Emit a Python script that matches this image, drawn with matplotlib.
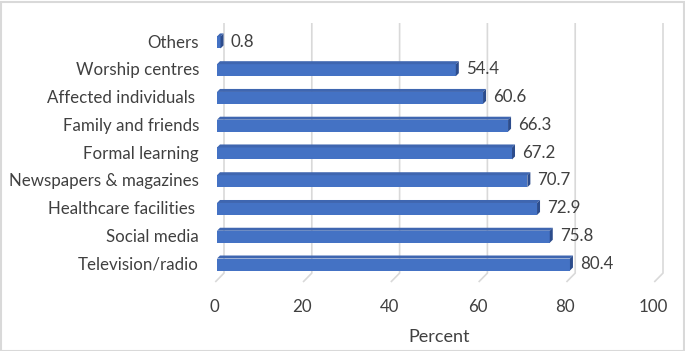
import matplotlib
matplotlib.use("Agg")
import matplotlib.pyplot as plt
from matplotlib.patches import Polygon, Rectangle
import matplotlib.transforms as mtransforms
import numpy as np

categories = ["Television/radio", "Social media", "Healthcare facilities ",
              "Newspapers & magazines", "Formal learning", "Family and friends",
              "Affected individuals ", "Worship centres", "Others"]
values = [80.4, 75.8, 72.9, 70.7, 67.2, 66.3, 60.6, 54.4, 0.8]
xticks = [0, 20, 40, 60, 80, 100]
xlabel = "Percent"

W, H = 685, 351
fig = plt.figure(figsize=(W / 100, H / 100), dpi=100)
plt.rcParams['font.family'] = ['Lato', 'DejaVu Sans']

x0, x1 = 217, 661
y_top, y_bot = 23, 282
ax = fig.add_axes([x0 / W, 1 - y_bot / H, (x1 - x0) / W, (y_bot - y_top) / H])
pxu = 4.39
ax.set_xlim(0, (x1 - x0) / pxu)
ax.set_ylim(-0.68, 8.65)
for s in ax.spines.values():
    s.set_visible(False)

text_col = "#404040"
grid_col = "#D9D9D9"
off = 7 / pxu
ygrid_bot = -0.36
fs = 12.2
for v in xticks:
    ax.plot([v + off, v + off, v - 0.4], [8.65, ygrid_bot, -0.68],
            color=grid_col, lw=1.2, zorder=0, solid_capstyle="butt", clip_on=False)

ypos = np.arange(len(categories))
bh = 12 / 27.75
dx = 3 / pxu
dy = 3 / 27.75
front = "#4472C4"
topc = "#3F66B0"
side = "#2C4C8C"
for y, v in zip(ypos, values):
    yb = y - bh / 2 - 0.05
    yt = yb + bh
    ax.barh(y - 0.05, v, height=bh, color=front, zorder=3, edgecolor="none")
    ax.add_patch(Polygon([(0, yt), (v, yt), (v + dx, yt + dy), (dx, yt + dy)],
                         closed=True, facecolor=topc, edgecolor="none", zorder=3))
    ax.add_patch(Polygon([(v, yb), (v, yt), (v + dx, yt + dy), (v + dx, yb + dy)],
                         closed=True, facecolor=side, edgecolor="none", zorder=3))
    ax.text(v + dx + 1.6, y - 0.02, f"{v:.1f}", va="center", ha="left",
            fontsize=fs, color=text_col, zorder=4)

ax.set_yticks(ypos)
ax.set_yticklabels(categories, fontsize=fs, color=text_col)
ax.tick_params(axis="y", length=0, pad=13)
ax.set_xticks(xticks)
ax.set_xticklabels([str(t) for t in xticks], fontsize=fs, color=text_col)
ax.tick_params(axis="x", length=0, pad=12)
shift = mtransforms.ScaledTranslation(-3 / 100, 0, fig.dpi_scale_trans)
for lab in ax.get_xticklabels():
    lab.set_transform(lab.get_transform() + shift)
ax.set_xlabel(xlabel, fontsize=13, color=text_col, labelpad=10)

fig.patches.append(Rectangle((0.5 / W, 0.5 / H), 1 - 2 / W, 1 - 2 / H,
                             transform=fig.transFigure, fill=False,
                             edgecolor="#D9D9D9", lw=1.5))

fig.savefig("out.png", dpi=100, facecolor="white")
